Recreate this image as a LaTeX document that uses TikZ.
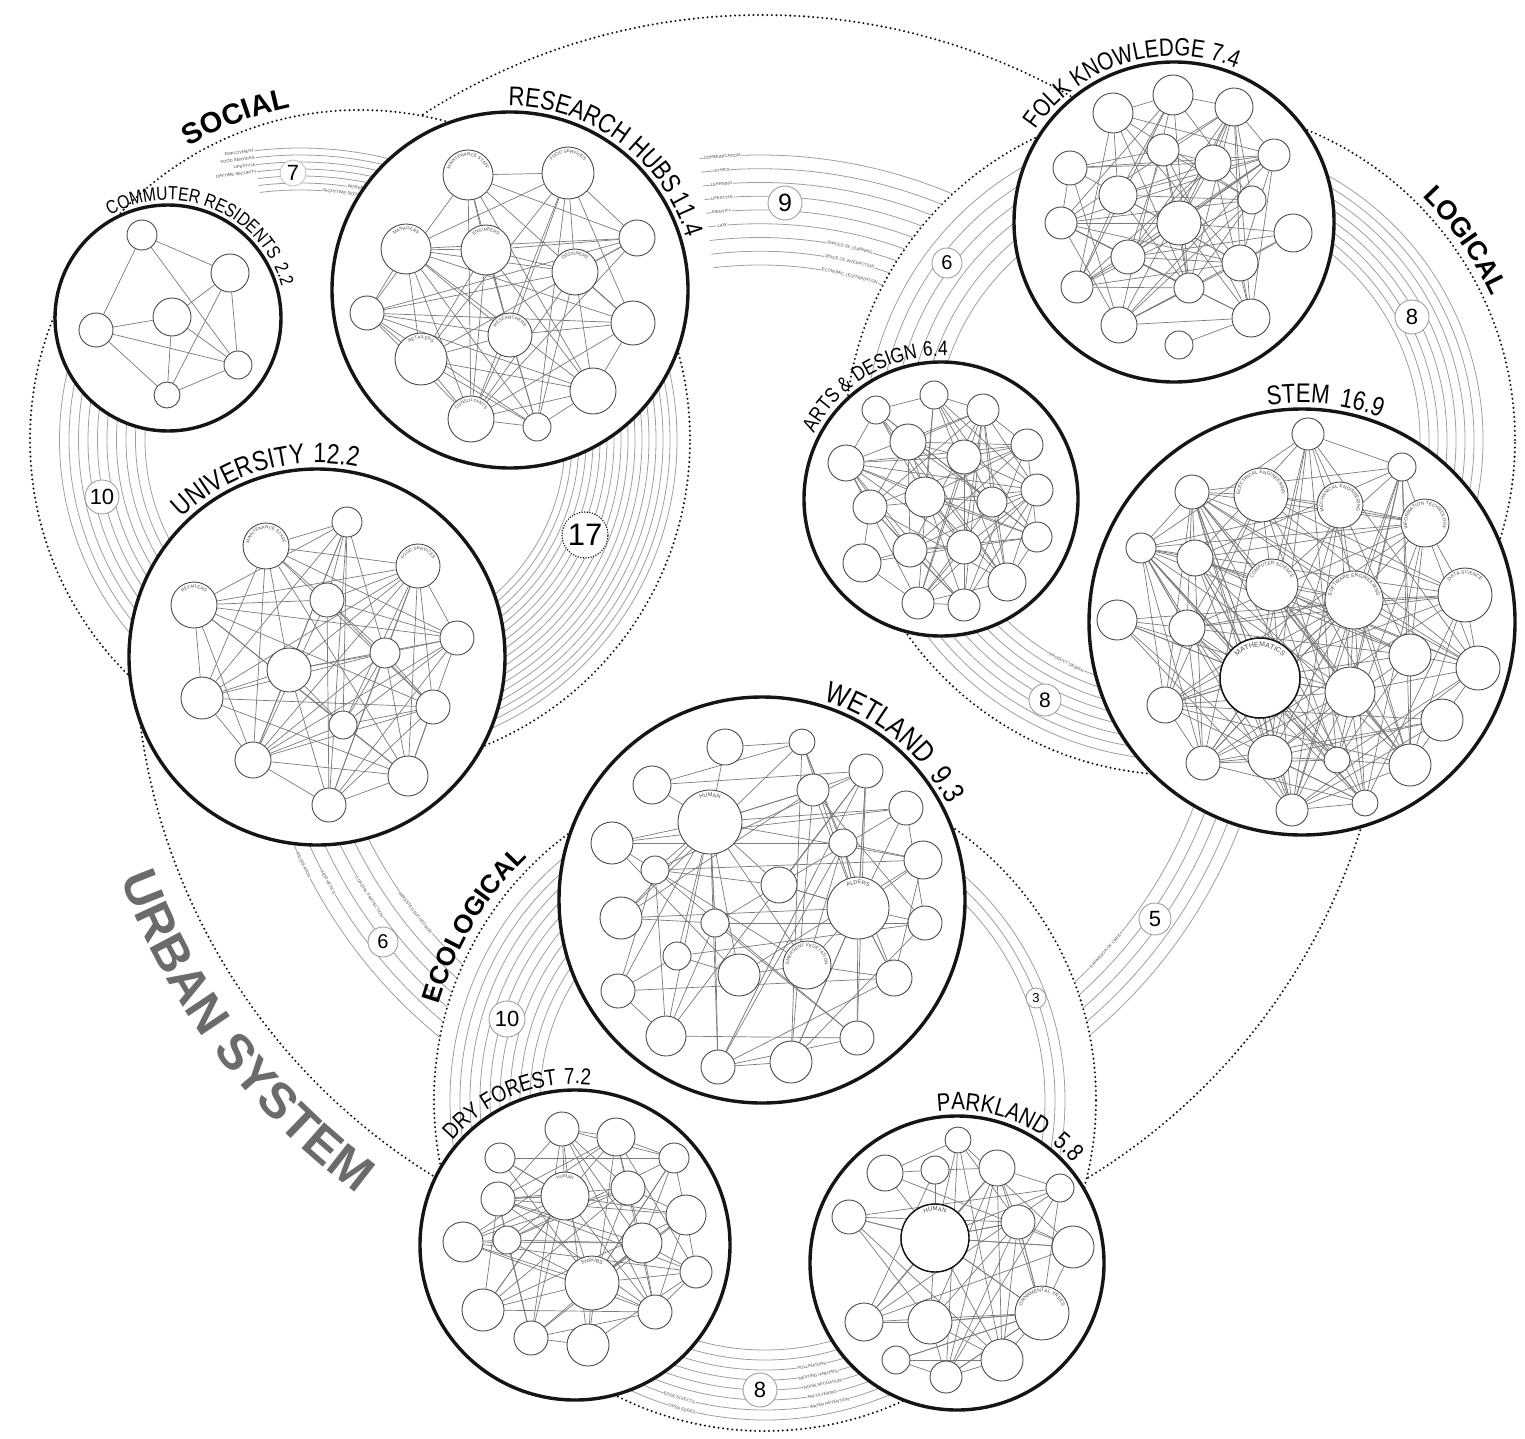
\documentclass[tikz,border=0pt]{standalone}
\usepackage{fontspec}
\setmainfont{Liberation Sans}
\newfontfamily\ttl[FakeStretch=0.82]{Liberation Sans}
\usetikzlibrary{decorations.text}
\definecolor{ink}{HTML}{151515}
\definecolor{rim}{HTML}{4A4A4A}
\definecolor{wire}{HTML}{7A7A7A}
\definecolor{haze}{HTML}{9E9E9E}
\definecolor{stone}{HTML}{6B6B6B}
\pgfdeclarelayer{back}\pgfdeclarelayer{box}\pgfdeclarelayer{web}
\pgfsetlayers{back,box,web,main}
\tikzset{
  ring/.style={circle,draw=ink,line width=2.3pt,dash pattern=on 0pt off 4.6pt,line cap=round,inner sep=0pt},
  hub/.style={circle,draw=ink,line width=3.4pt,fill=white,inner sep=0pt},
  nd/.style={circle,draw=rim,line width=0.9pt,fill=white,inner sep=0pt},
  web/.style={draw=wire,line width=0.7pt},
  strand/.style={draw=haze,line width=0.8pt},
  tag/.style={circle,draw=haze,line width=0.9pt,fill=white,inner sep=0pt},
  note/.style={font=\fontsize{4.2}{4.2}\selectfont,text=rim,fill=white,inner sep=0.5pt}
}
\newcommand\strands[6]{\foreach \k in {0,...,#4}{%
  \pgfmathsetmacro\rr{#2+\k*#3}%
  \draw[strand,shift={(#1.center)}] (#5:\rr) arc[start angle=#5,end angle=#6,radius=\rr];}}
\newcommand\netweb[4]{\foreach \i in {1,...,#2}{\foreach \j in {1,...,#2}{%
  \ifnum\i<\j\relax
    \pgfmathtruncatemacro\q{(\j==\i+1)?0:mod(5*\i*\j+3*\i+\j*\j,#3)}%
    \ifnum\q<#4\relax\draw[web] (#1\i) -- (#1\j);\fi
  \fi}}}
\newcommand\spokes[2]{\foreach \j in {#2}{\draw[web] (#1) -- (\j);}}
\newcommand\arctext[6]{\path[shift={(#1.center)},decorate,decoration={text along path,text align=center,text={|#5|#6}}] (#2:#4) arc[start angle=#2,end angle=#3,radius=#4];}
\newcommand\nlab[4]{\path[shift={(#1.center)},decorate,decoration={text along path,text align=center,text={|\color{rim}\fontsize{#3}{#3}\selectfont|#4}}] (-215:#2) arc[start angle=-215,end angle=35,radius=#2];}

\begin{document}
\begin{tikzpicture}[x=1pt,y=-1pt]
  \useasboundingbox (0,0) rectangle (1525,1439);
  \begin{pgfonlayer}{back}
    \node[ring,minimum size=660] (social) at (360,440) {};
    \node[ring,minimum size=670] (logical) at (1180,440) {};
    \node[ring,minimum size=662] (ecological) at (765,1100) {};
    \coordinate (pivot7) at (300,520);
    \coordinate (pivot9) at (760,650);
    \begin{scope}[even odd rule]
      \clip (0,0) rectangle (1525,1439) (social.center) circle[radius=330]
        (logical.center) circle[radius=335] (ecological.center) circle[radius=331];
      \node[ring,minimum size=1254] (urban) at (762,642) {};
    \end{scope}
    \begin{scope}[even odd rule]
      \clip (0,0) rectangle (1525,1439) (logical.center) circle[radius=335]
        (ecological.center) circle[radius=331];
      \strands{pivot9}{385}{13.75}{8}{-97}{-45}
      \strands{urban}{440}{14}{5}{125}{164}
      \strands{urban}{462}{12.5}{4}{12}{58}
    \end{scope}
    \strands{pivot7}{330}{7}{6}{-97}{-74}
    \strands{social}{205}{7}{16}{-20}{75}
    \strands{social}{215}{9.5}{9}{120}{215}
    \strands{logical}{245}{14}{5}{-200}{-110}
    \strands{logical}{240}{9}{7}{-70}{40}
    \strands{logical}{250}{10}{7}{60}{160}
    \strands{ecological}{225}{10}{9}{140}{270}
    \strands{ecological}{280}{10}{2}{-60}{40}
    \strands{ecological}{250}{10}{7}{40}{140}
    \path[shift={(pivot9.center)}]
      (-94.4:495) node[note,rotate=4.4] {COMMUNICATION}
      (-94.5:481.25) node[note,rotate=4.5] {ETHICS}
      (-94.7:467.5) node[note,rotate=4.7] {LEARNING}
      (-94.8:453.75) node[note,rotate=4.8] {LIFESTYLE}
      (-95:440) node[note,rotate=5] {IDENTITY}
      (-95.1:426.25) node[note,rotate=5.1] {LAW}
      (-77.4:412.5) node[note,rotate=-12.6] {SPACES OF LEARNING}
      (-77:398.75) node[note,rotate=-13] {SPACE OF INTERACTION}
      (-76.5:385) node[note,rotate=-13.5] {ECONOMIC LEGITIMIZATION};
    \path[shift={(pivot7.center)}]
      (-97:372) node[note,anchor=east,rotate=7] {EMPLOYMENT}
      (-97:365) node[note,anchor=east,rotate=7] {FOOD SERVICES}
      (-97:358) node[note,anchor=east,rotate=7] {LIFESTYLE}
      (-97:351) node[note,anchor=east,rotate=7] {DAYTIME SECURITY}
      (-80:337) node[note,rotate=-9] {WORKERS}
      (-82:330) node[note,rotate=-7] {NIGHTTIME SECURITY};
    \path[shift={(urban.center)}]
      (154:510) node[note,rotate=-64] {RECREATION}
      (151:496) node[note,rotate=-61] {AESTHETICS}
      (147:468) node[note,rotate=-57] {COASTAL PROTECTION}
      (142:440) node[note,rotate=-52] {ARRESTED SUCCESSION}
      (42:462) node[note,rotate=48] {EXPANSION OF CARE};
    \path[shift={(ecological.center)}]
      (80:270) node[note,rotate=10] {POLLINATORS}
      (79:280) node[note,rotate=11] {NESTING HABITATS}
      (78.5:290) node[note,rotate=11.5] {NOISE MITIGATION}
      (79:300) node[note,rotate=11] {AIR FILTERING}
      (78:310) node[note,rotate=12] {WATER RETENTION}
      (106:310) node[note,rotate=-16] {EDGE EFFECTS}
      (105:320) node[note,rotate=-15] {OPEN EDGES};
    \path[shift={(logical.center)}] (117:250) node[note,rotate=-27] {PRODUCT DESIGN};
    \node[tag,draw=haze!60,minimum size=26,font=\fontsize{22}{22}\selectfont] (b7) at (293,173) {7};
    \node[tag,minimum size=34,font=\fontsize{25}{25}\selectfont] (b9) at (785,203) {9};
    \node[tag,draw=ink,dash pattern=on 0pt off 2.6pt,line cap=round,line width=1.6pt,minimum size=46,font=\fontsize{31}{31}\selectfont] (b17) at (585,535) {17};
    \node[tag,minimum size=34,font=\fontsize{22}{22}\selectfont] (b10s) at (102,497) {10};
    \node[tag,minimum size=30,font=\fontsize{20}{20}\selectfont] (b6l) at (947,263) {6};
    \node[tag,minimum size=34,font=\fontsize{22}{22}\selectfont] (b8r) at (1412,317) {8};
    \node[tag,minimum size=32,font=\fontsize{21}{21}\selectfont] (b8b) at (1045,700) {8};
    \node[tag,minimum size=36,font=\fontsize{22}{22}\selectfont] (b10e) at (507,1019) {10};
    \node[tag,minimum size=20,font=\fontsize{13}{13}\selectfont] (b3) at (1036,998) {3};
    \node[tag,minimum size=34,font=\fontsize{22}{22}\selectfont] (b8e) at (760,1390) {8};
    \node[tag,minimum size=30,font=\fontsize{20}{20}\selectfont] (b6x) at (383,942) {6};
    \node[tag,minimum size=32,font=\fontsize{22}{22}\selectfont] (b5) at (1155,919) {5};
  \end{pgfonlayer}

  \begin{pgfonlayer}{box}
    \node[hub,minimum size=226] (commuter) at (168,318) {};
    \node[hub,minimum size=356] (research) at (510,290) {};
    \node[hub,minimum size=376] (university) at (317,657) {};
    \node[hub,minimum size=320] (folk) at (1174,222) {};
    \node[hub,minimum size=274] (arts) at (941,499) {};
    \node[hub,minimum size=426] (stem) at (1302,622) {};
    \node[hub,minimum size=406] (wetland) at (762,900) {};
    \node[hub,minimum size=310] (dryforest) at (575,1245) {};
    \node[hub,minimum size=294] (parkland) at (957,1263) {};
  \end{pgfonlayer}

  \foreach \n/\x/\y/\r in {1/142/235/15,2/230/273/19,3/172/317/19,4/96/330/17,5/238/365/14,6/167/395/13}
    \node[nd,minimum size=2*\r] (cr\n) at (\x,\y) {};
  \foreach \n/\x/\y/\r in {1/468/175/25,2/568/173/26,3/406/249/25,4/486/250/25,5/637/238/18,6/575/272/23,
      7/367/313/17,8/633/323/22,9/510/335/22,10/421/359/26,11/593/391/23,12/471/419/23,13/537/427/14}
    \node[nd,minimum size=2*\r] (rh\n) at (\x,\y) {};
  \foreach \n/\x/\y/\r in {1/347/522/15,2/266/546/23,3/418/566/22,4/194/605/23,5/327/600/17,6/457/638/17,
      7/385/653/15,8/289/670/22,9/202/698/21,10/433/707/17,11/343/725/14,12/253/760/18,13/408/776/20,14/329/805/17}
    \node[nd,minimum size=2*\r] (un\n) at (\x,\y) {};
  \foreach \n/\x/\y/\r in {1/1113/113/20,2/1173/95/20,3/1234/107/19,4/1163/150/16,5/1070/168/17,6/1213/163/18,
      7/1274/155/16,8/1118/195/19,9/1252/200/14,10/1061/223/16,11/1179/223/22,12/1293/233/19,13/1128/257/17,
      14/1240/263/18,15/1077/287/16,16/1189/288/15,17/1119/325/18,18/1251/318/19,19/1179/345/14}
    \node[nd,minimum size=2*\r] (fk\n) at (\x,\y) {};
  \foreach \n/\x/\y/\r in {1/876/410/14,2/934/395/14,3/983/410/16,4/908/442/18,5/964/457/17,6/1027/445/16,
      7/846/463/18,8/925/497/20,9/992/502/15,10/1037/490/16,11/870/507/17,12/862/563/19,13/910/550/17,
      14/964/547/17,15/1037/537/15,16/1007/582/19,17/918/603/16,18/964/605/16}
    \node[nd,minimum size=2*\r] (ad\n) at (\x,\y) {};
  \foreach \n/\x/\y/\r in {1/1308/434/16,2/1402/467/14,3/1192/492/17,4/1261/495/27,5/1340/505/23,6/1425/523/24,
      7/1141/548/15,8/1195/558/18,9/1272/585/26,10/1354/600/29,11/1465/595/27,12/1117/620/20,13/1187/628/18,
      14/1260/678/40,15/1410/655/21,16/1478/668/22,17/1350/692/25,18/1165/705/18,19/1442/720/21,20/1203/763/17,
      21/1270/757/22,22/1337/760/13,23/1410/765/21,24/1292/810/16,25/1365/803/13}
    \node[nd,minimum size=2*\r] (st\n) at (\x,\y) {};
  \foreach \n/\x/\y/\r in {1/725/747/18,2/802/742/13,3/652/785/19,4/866/771/17,5/813/790/16,6/710/822/32,
      7/906/808/17,8/612/843/21,9/843/843/14,10/923/860/19,11/655/870/14,12/779/885/18,13/858/908/31,
      14/621/918/21,15/715/923/14,16/925/923/17,17/677/956/14,18/739/975/21,19/807/965/24,20/894/978/18,
      21/618/991/17,22/666/1036/20,23/857/1038/17,24/718/1067/17,25/791/1062/21}
    \node[nd,minimum size=2*\r] (wl\n) at (\x,\y) {};
  \foreach \n/\x/\y/\r in {1/500/1158/15,2/565/1196/24,3/498/1199/17,4/628/1188/17,5/463/1242/20,6/507/1240/14,
      7/642/1243/20,8/592/1283/27,9/483/1310/21,10/655/1312/17,11/531/1338/17,12/588/1345/21,13/562/1129/17,
      14/616/1137/19,15/674/1158/15,16/686/1215/20,17/696/1272/16}
    \node[nd,minimum size=2*\r] (df\n) at (\x,\y) {};
  \foreach \n/\x/\y/\r in {1/885/1173/18,2/935/1170/14,3/997/1168/18,4/1060/1188/14,5/849/1217/17,6/935/1238/34,
      7/1018/1222/17,8/1073/1247/21,9/864/1322/19,10/930/1322/22,11/1042/1313/27,12/896/1360/14,13/946/1377/16,
      14/1002/1360/21,15/958/1140/13}
    \node[nd,minimum size=2*\r] (pk\n) at (\x,\y) {};
  \draw[ink,line width=1.5pt] (st14.center) circle[radius=40];
  \draw[ink,line width=1.4pt] (pk6.center) circle[radius=34];

  \begin{pgfonlayer}{web}
    \netweb{cr}{6}{7}{5}
    \netweb{rh}{13}{7}{5}
    \netweb{un}{14}{7}{5}
    \netweb{fk}{19}{7}{4}
    \netweb{ad}{18}{7}{4}
    \netweb{st}{25}{7}{4}
    \netweb{wl}{25}{11}{2}
    \netweb{df}{17}{7}{3}
    \netweb{pk}{15}{7}{3}
    \spokes{wl6}{wl1,wl3,wl8,wl11,wl12,wl14,wl15,wl17,wl18,wl19,wl22,wl24,wl5}
    \spokes{wl13}{wl4,wl7,wl9,wl10,wl12,wl16,wl19,wl20,wl23,wl25,wl5,wl2}
    \spokes{df2}{df1,df3,df5,df6,df8,df9,df11,df13,df14,df10}
    \spokes{df8}{df4,df7,df10,df12,df15,df16,df17,df5}
    \spokes{pk6}{pk1,pk2,pk3,pk5,pk9,pk10,pk11,pk14,pk7,pk8}
    \spokes{pk11}{pk4,pk7,pk8,pk9,pk10,pk12,pk13,pk14}
    \spokes{st14}{st3,st7,st8,st12,st18,st20,st21,st24,st9,st10,st17}
  \end{pgfonlayer}

  \nlab{rh1}{19}{4.5}{MAINTENANCE STAFF}
  \nlab{rh2}{20}{4.5}{FOOD SERVICES}
  \nlab{rh3}{19}{4.5}{MANAGERS}
  \nlab{rh4}{19}{4.5}{ENGINEERS}
  \nlab{rh6}{17}{4.5}{DESIGNERS}
  \nlab{rh9}{16}{4.5}{RESEARCHERS}
  \nlab{rh10}{20}{4.5}{RETAILERS}
  \nlab{rh12}{17}{4.5}{CONSULTANTS}
  \nlab{un2}{17}{4.5}{MAINTENANCE STAFF}
  \nlab{un3}{16}{4.5}{FOOD SERVICES}
  \nlab{un4}{17}{4.5}{RETAILERS}
  \nlab{st4}{21}{4.8}{ELECTRICAL ENGINEERING}
  \nlab{st5}{17}{4.8}{MECHANICAL ENGINEERING}
  \nlab{st6}{18}{4.8}{INFORMATION TECHNOLOGY}
  \nlab{st9}{20}{4.8}{COMPUTER SCIENCE}
  \nlab{st10}{23}{5}{SOFTWARE ENGINEERING}
  \nlab{st11}{21}{4.8}{DATA SCIENCE}
  \nlab{st14}{31}{7}{MATHEMATICS}
  \nlab{wl6}{25}{5.5}{HUMAN}
  \nlab{wl13}{24}{5.5}{ALDERS}
  \nlab{wl19}{18}{4.5}{EMERGENT VEGETATION}
  \nlab{df2}{18}{4.5}{HUMAN}
  \nlab{df8}{21}{5}{SHRUBS}
  \nlab{pk6}{27}{6}{HUMAN}
  \nlab{pk11}{21}{5}{ORNAMENTAL TREES}

  \arctext{commuter}{-160}{25}{118}{\ttl\fontsize{19}{19}\selectfont}{COMMUTER RESIDENTS{\hspace{7pt}}2.2}
  \arctext{research}{-150}{43}{184}{\ttl\fontsize{27}{27}\selectfont}{RESEARCH HUBS{\hspace{4pt}}11.4}
  \arctext{university}{-160}{-52}{194}{\ttl\fontsize{28}{28}\selectfont}{UNIVERSITY{\hspace{8pt}}12.2}
  \arctext{folk}{-170}{-44}{166}{\ttl\fontsize{25}{25}\selectfont}{FOLK KNOWLEDGE{\hspace{6pt}}7.4}
  \arctext{arts}{-185}{-55}{143}{\ttl\fontsize{21}{21}\selectfont}{ARTS {\&} DESIGN{\hspace{6pt}}6.4}
  \arctext{stem}{-130}{-38}{219}{\ttl\fontsize{27}{27}\selectfont}{STEM{\hspace{10pt}}16.9}
  \arctext{wetland}{-100}{0}{209}{\ttl\fontsize{30}{30}\selectfont}{WETLAND{\hspace{12pt}}9.3}
  \arctext{dryforest}{-160}{-64}{161}{\ttl\fontsize{23}{23}\selectfont}{DRY FOREST{\hspace{7pt}}7.2}
  \arctext{parkland}{-124}{-14}{153}{\ttl\fontsize{25}{25}\selectfont}{PARKLAND{\hspace{12pt}}5.8}
  \arctext{social}{-140}{-82}{340}{\bfseries\fontsize{29}{29}\selectfont}{SOCIAL}
  \arctext{logical}{-65}{-5}{343}{\bfseries\fontsize{27}{27}\selectfont}{LOGICAL}
  \arctext{ecological}{-178}{-120}{340}{\bfseries\fontsize{26}{26}\selectfont}{ECOLOGICAL}
  \arctext{urban}{175}{111}{684}{\color{stone}\bfseries\fontsize{50}{50}\selectfont}{URBAN SYSTEM}
\end{tikzpicture}
\end{document}
